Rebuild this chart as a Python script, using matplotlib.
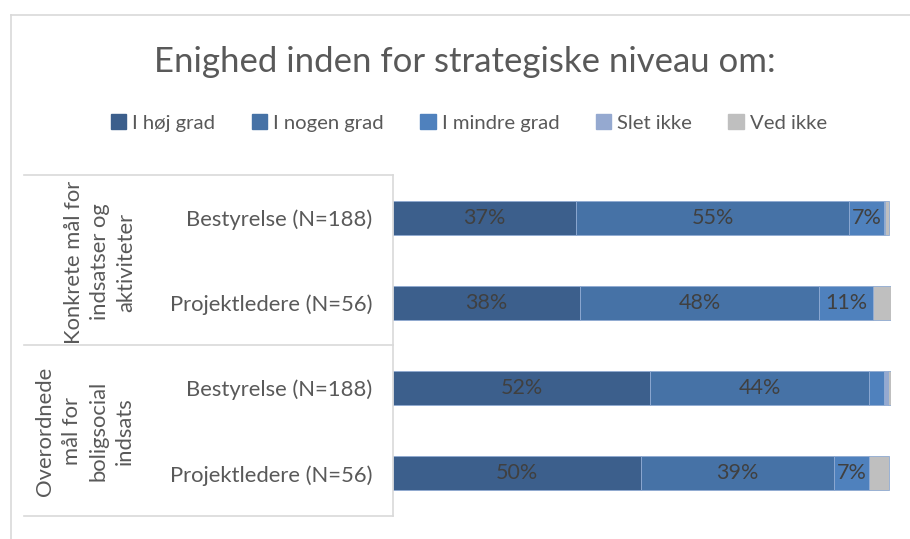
import numpy as np
import matplotlib.pyplot as plt
from matplotlib.lines import Line2D
from matplotlib.patches import Patch

# values (percent)
rows = ["Bestyrelse (N=188)", "Projektledere (N=56)",
        "Bestyrelse (N=188)", "Projektledere (N=56)"]
groups = ["Konkrete mål for\nindsatser og\naktiviteter",
          "Overordnede\nmål for\nboligsocial\nindsats"]
series = ["I høj grad", "I nogen grad", "I mindre grad", "Slet ikke", "Ved ikke"]
hoej = [36.8, 37.6, 51.7, 49.7]
nogen = [54.8, 47.9, 43.9, 38.9]
mindre = [6.9, 10.9, 2.9, 7.0]
slet = [0.3, 0.0, 0.8, 0.0]
ved = [0.7, 3.6, 0.6, 3.9]
colors = ["#3C5F8C", "#4672A6", "#4F81BD", "#95A9D0", "#BFBFBF"]

W, H = 910, 539
plt.rcParams["font.family"] = ["Lato", "DejaVu Sans"]
fig = plt.figure(figsize=(W / 100, H / 100), dpi=100)
ax = fig.add_axes([393 / W, 1 - 516 / H, 498 / W, 341 / H])

txt = "#595959"
y = np.arange(len(rows))
left = np.zeros(len(rows))
for name, vals, col in zip(series, [hoej, nogen, mindre, slet, ved], colors):
    vals = np.array(vals)
    ax.barh(y, vals, left=left, height=0.4, color=col, edgecolor="#8FAAD2",
            linewidth=0.6, label=name)
    for yi, l, v in zip(y, left, vals):
        if v >= 5:
            ax.text(l + v / 2, yi, f"{round(v):.0f}%", ha="center", va="center",
                    fontsize=15.5, color="#404040")
    left += vals

ax.set_xlim(0, 100)
ax.set_ylim(3.5, -0.5)
ax.set_xticks([])
ax.set_yticks(y)
ax.set_yticklabels(rows, fontsize=15.8, color=txt)
ax.tick_params(axis="y", length=0, pad=15)
for s in ["top", "right", "bottom"]:
    ax.spines[s].set_visible(False)
ax.spines["left"].set_color("#D9D9D9")
ax.spines["left"].set_linewidth(1.2)

# category table lines
for py in [175, 345, 516]:
    fig.add_artist(Line2D([24 / W, 393 / W], [1 - py / H] * 2,
                          color="#D9D9D9", lw=1.2))
fig.text(100 / W, 1 - 262 / H, groups[0], rotation=90, ha="center",
         va="center", multialignment="center", fontsize=15.8, color=txt,
         linespacing=1.4)
fig.text(85 / W, 1 - 431 / H, groups[1], rotation=90, ha="center",
         va="center", multialignment="center", fontsize=15.8, color=txt,
         linespacing=1.4)

# chart border (cropped)
fig.add_artist(Line2D([11 / W, 1], [1 - 15 / H] * 2, color="#D9D9D9", lw=1.2))
fig.add_artist(Line2D([11 / W, 11 / W], [0, 1 - 15 / H], color="#D9D9D9", lw=1.2))

fig.text(465 / W, 1 - 62 / H, "Enighed inden for strategiske niveau om:",
         ha="center", va="center", fontsize=25, color=txt)

handles = [Patch(color=c) for c in colors]
fig.legend(handles, series, loc="center", bbox_to_anchor=(469 / W, 1 - 123 / H),
           ncol=5, frameon=False, fontsize=14.6, labelcolor=txt,
           handlelength=0.75, handleheight=0.75, handletextpad=0.3,
           columnspacing=1.8)

fig.savefig("out.png", dpi=100)
